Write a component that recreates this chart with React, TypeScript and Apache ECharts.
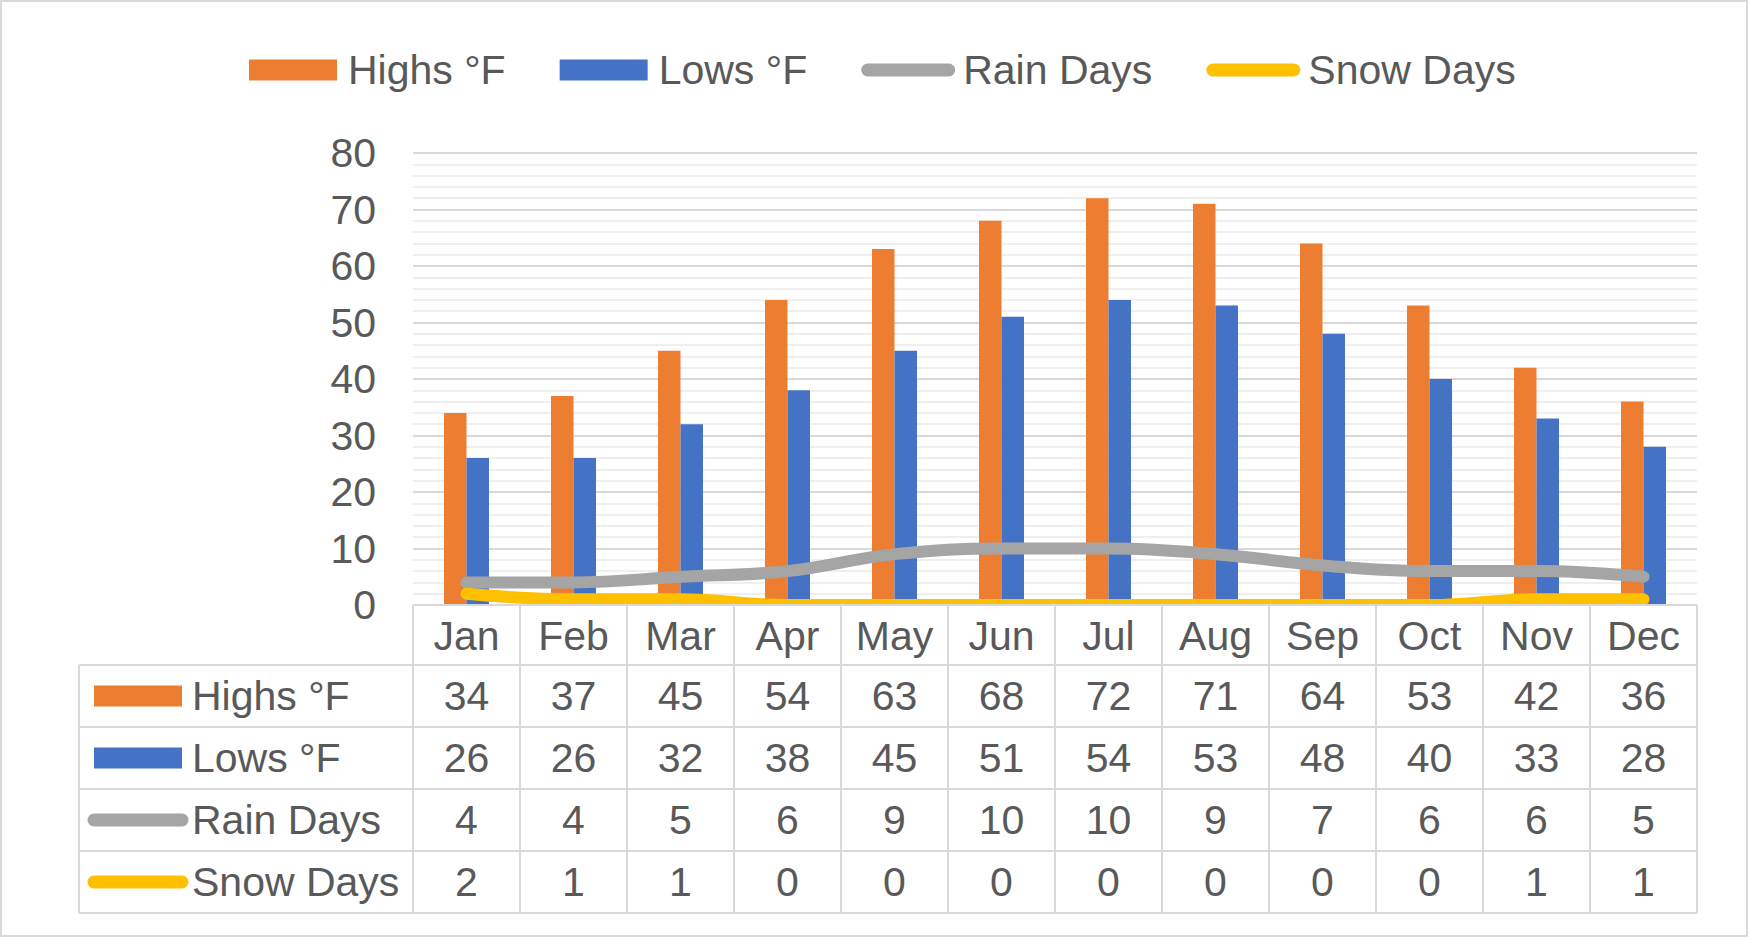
import React, { useEffect, useRef } from "react";
import * as echarts from "echarts";

const categories = ["Jan", "Feb", "Mar", "Apr", "May", "Jun", "Jul", "Aug", "Sep", "Oct", "Nov", "Dec"];
const highs = [34, 37, 45, 54, 63, 68, 72, 71, 64, 53, 42, 36];
const lows = [26, 26, 32, 38, 45, 51, 54, 53, 48, 40, 33, 28];
const rainDays = [4, 4, 5, 6, 9, 10, 10, 9, 7, 6, 6, 5];
const snowDays = [2, 1, 1, 0, 0, 0, 0, 0, 0, 0, 1, 1];
const seriesNames = ["Highs °F", "Lows °F", "Rain Days", "Snow Days"];
const yMin = 0;
const yMax = 80;
const yStep = 10;

const COLORS = ["#ED7D31", "#4472C4", "#A5A5A5", "#FFC000"];
const TEXT = "#595959";
const GRID = "#d9d9d9";
const FONT = "'Liberation Sans', Arial, sans-serif";
const FS = 41;

const RECT_ICON = "path://M0,0L88,0L88,21L0,21Z";
const LINE_ICON = "path://M6.5,0L87.5,0A6.5,6.5,0,0,1,87.5,13L6.5,13A6.5,6.5,0,0,1,6.5,0Z";

export default function App() {
  const ref = useRef<HTMLDivElement>(null);

  useEffect(() => {
    document.body.style.margin = "0";
    if (!ref.current) return;
    const chart = echarts.init(ref.current, null, { renderer: "svg" });
    const seriesData = [highs, lows, rainDays, snowDays];

    chart.setOption({
      animation: false,
      backgroundColor: "#ffffff",
      textStyle: { fontFamily: FONT },
      grid: { left: 413, right: 53, top: 153, bottom: 333, containLabel: false },
      legend: {
        left: 244,
        top: 44,
        itemWidth: 94,
        itemHeight: 21,
        itemGap: 54,
        selectedMode: false,
        itemStyle: { borderWidth: 0 },
        textStyle: { fontSize: FS, color: TEXT, fontFamily: FONT, padding: [0, 0, 0, 3], lineHeight: 42 },
        data: [
          { name: seriesNames[0], icon: RECT_ICON },
          { name: seriesNames[1], icon: RECT_ICON },
          { name: seriesNames[2], icon: LINE_ICON },
          { name: seriesNames[3], icon: LINE_ICON },
        ],
      },
      xAxis: {
        type: "category",
        data: categories,
        z: 20,
        axisLine: { show: false },
        axisTick: { show: false },
        splitLine: { show: false },
        axisLabel: {
          fontSize: FS,
          color: TEXT,
          fontFamily: FONT,
          margin: 31,
          verticalAlign: "middle",
          interval: 0,
        },
      },
      yAxis: {
        type: "value",
        min: yMin,
        max: yMax,
        interval: yStep,
        axisLine: { show: false },
        axisTick: { show: false },
        axisLabel: { fontSize: FS, color: TEXT, fontFamily: FONT, margin: 37 },
        splitLine: { show: true, lineStyle: { color: GRID, width: 2 } },
        minorTick: { show: false, splitNumber: 5 },
        minorSplitLine: { show: true, lineStyle: { color: "#efefef", width: 2 } },
      },
      series: [
        {
          name: seriesNames[0],
          type: "bar",
          data: highs,
          barWidth: 22.5,
          barGap: "0%",
          itemStyle: { color: COLORS[0] },
        },
        {
          name: seriesNames[1],
          type: "bar",
          data: lows,
          barWidth: 22.5,
          barGap: "0%",
          itemStyle: { color: COLORS[1] },
        },
        {
          name: seriesNames[2],
          type: "line",
          data: rainDays,
          smooth: 0.4,
          symbol: "none",
          z: 3,
          itemStyle: { color: COLORS[2] },
          lineStyle: { color: COLORS[2], width: 12, cap: "round", join: "round" },
        },
        {
          name: seriesNames[3],
          type: "line",
          data: snowDays,
          smooth: 0.4,
          symbol: "none",
          z: 3,
          itemStyle: { color: COLORS[3] },
          lineStyle: { color: COLORS[3], width: 12, cap: "round", join: "round" },
        },
      ],
    });

    // Build the data table beneath the plot from the axis scale
    const centers = categories.map((c) => chart.convertToPixel({ xAxisIndex: 0 }, c) as number);
    const colW = centers.length > 1 ? centers[1] - centers[0] : 107;
    const plotLeft = centers[0] - colW / 2;
    const plotRight = plotLeft + colW * categories.length;
    const y0 = chart.convertToPixel({ yAxisIndex: 0 }, yMin) as number;
    const tableLeft = 79;
    const rowBounds = [y0, y0 + 60, y0 + 122, y0 + 184, y0 + 246, y0 + 308];
    const lineStyle = { stroke: GRID, lineWidth: 2 };
    const els: any[] = [];

    // outer border
    els.push({
      type: "rect",
      silent: true,
      z: 1,
      shape: { x: 1, y: 1, width: 1746, height: 935 },
      style: { fill: "none", stroke: GRID, lineWidth: 2 },
    });

    // white backdrop for the category row
    els.push({
      type: "rect",
      silent: true,
      z: 10,
      shape: { x: plotLeft, y: rowBounds[0] + 1, width: plotRight - plotLeft, height: rowBounds[1] - rowBounds[0] },
      style: { fill: "#ffffff" },
    });

    // horizontal lines
    els.push({
      type: "line",
      silent: true,
      z: 11,
      shape: { x1: plotLeft, y1: rowBounds[0], x2: plotRight, y2: rowBounds[0] },
      style: lineStyle,
    });
    for (let r = 1; r < rowBounds.length; r++) {
      els.push({
        type: "line",
        silent: true,
        z: 11,
        shape: { x1: tableLeft, y1: rowBounds[r], x2: plotRight, y2: rowBounds[r] },
        style: lineStyle,
      });
    }
    // vertical lines
    for (let i = 0; i <= categories.length; i++) {
      const x = plotLeft + i * colW;
      els.push({
        type: "line",
        silent: true,
        z: 11,
        shape: { x1: x, y1: rowBounds[0], x2: x, y2: rowBounds[rowBounds.length - 1] },
        style: lineStyle,
      });
    }
    els.push({
      type: "line",
      silent: true,
      z: 11,
      shape: { x1: tableLeft, y1: rowBounds[1], x2: tableLeft, y2: rowBounds[rowBounds.length - 1] },
      style: lineStyle,
    });

    // row headers with legend keys, and values
    seriesNames.forEach((name, s) => {
      const cy = (rowBounds[s + 1] + rowBounds[s + 2]) / 2;
      if (s < 2) {
        els.push({
          type: "rect",
          silent: true,
          z: 12,
          shape: { x: 94, y: cy - 10.5, width: 88, height: 21 },
          style: { fill: COLORS[s] },
        });
      } else {
        els.push({
          type: "line",
          silent: true,
          z: 12,
          shape: { x1: 94, y1: cy, x2: 182, y2: cy },
          style: { stroke: COLORS[s], lineWidth: 13, lineCap: "round" },
        });
      }
      els.push({
        type: "text",
        silent: true,
        z: 12,
        x: 192,
        y: cy,
        style: {
          text: name,
          fill: TEXT,
          fontSize: FS,
          fontFamily: FONT,
          align: "left",
          verticalAlign: "middle",
        },
      });
      seriesData[s].forEach((v, i) => {
        els.push({
          type: "text",
          silent: true,
          z: 12,
          x: centers[i],
          y: cy,
          style: {
            text: String(v),
            fill: TEXT,
            fontSize: FS,
            fontFamily: FONT,
            align: "center",
            verticalAlign: "middle",
          },
        });
      });
    });

    chart.setOption({ graphic: { elements: els } });

    return () => {
      chart.dispose();
    };
  }, []);

  return <div ref={ref} style={{ width: "1750px", height: "938px" }} />;
}
